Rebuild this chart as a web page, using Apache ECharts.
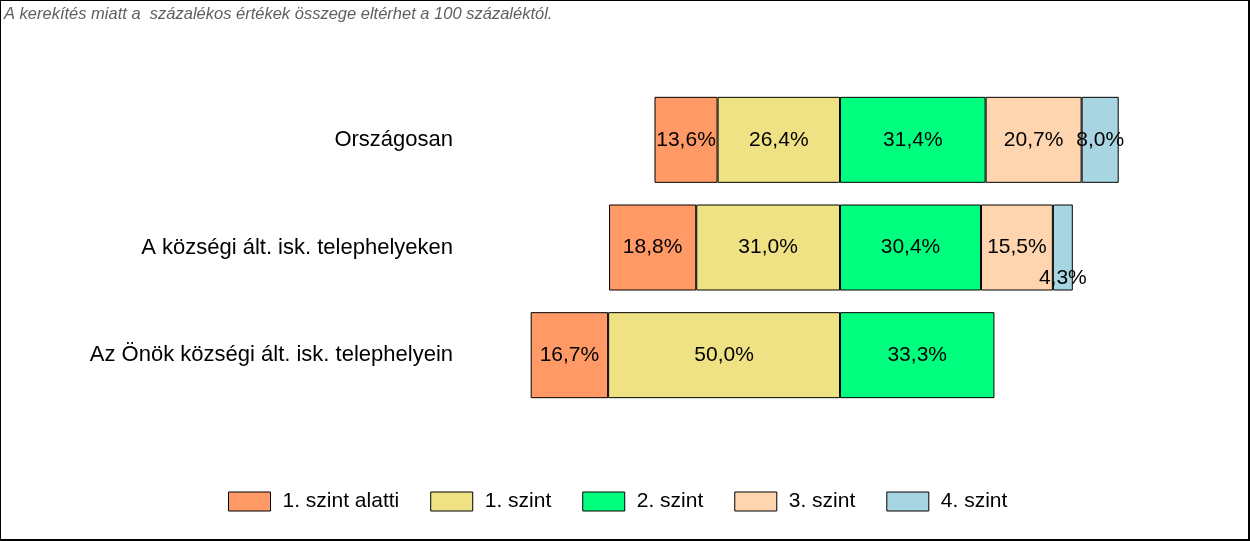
<!DOCTYPE html>
<html>
<head>
<meta charset="utf-8">
<script src="https://cdn.jsdelivr.net/npm/echarts@6/dist/echarts.min.js"></script>
<style>
html,body{margin:0;padding:0;background:#fff;}
#c{position:absolute;left:0;top:0;width:1247px;height:538px;border-left:1px solid #000;border-top:1px solid #000;border-right:2px solid #000;border-bottom:2px solid #000;}
</style>
</head>
<body>
<div id="c"></div>
<script>
const categories = ["Országosan", "A községi ált. isk. telephelyeken", "Az Önök községi ált. isk. telephelyein"];
const seriesNames = ["1. szint alatti", "1. szint", "2. szint", "3. szint", "4. szint"];
const belowLevel1 = [13.6, 18.8, 16.7];
const level1 = [26.4, 31.0, 50.0];
const level2 = [31.4, 30.4, 33.3];
const level3 = [20.7, 15.5, null];
const level4 = [8.0, 4.3, null];
const colors = ["#FF9966", "#EEE285", "#00FF7F", "#FFD5B0", "#A8D5E2"];
const note = "A kerekítés miatt a  százalékos értékek összege eltérhet a 100 százaléktól.";

const FF = 'Liberation Sans, Arial';
const fmt = p => p.value == null ? '' : Math.abs(p.value).toFixed(1).replace('.', ',') + '%';
const lbl = {show: true, position: 'inside', color: '#000', fontSize: 21, fontFamily: FF, formatter: fmt};
const item = c => ({color: c, borderColor: '#000', borderWidth: 1});
function mk(name, data, color) {
  return {name, type: 'bar', stack: 'all', barWidth: 86, data, label: lbl, itemStyle: item(color), emphasis: {disabled: true}};
}
const s4data = level4.map((v, i) => i === 1 ? {value: v, label: {position: 'insideBottom', distance: 2}} : v);

const chart = echarts.init(document.getElementById('c'), null, {renderer: 'canvas'});
chart.setOption({
  animation: false,
  title: {text: note, left: 0, top: 2, padding: [3, 3], textStyle: {fontSize: 16.5, fontStyle: 'italic', fontWeight: 'normal', color: '#5f5f5f', fontFamily: FF}},
  legend: {
    data: seriesNames, left: 222, top: 485, itemWidth: 42, itemHeight: 19, itemGap: 31,
    icon: 'rect',
    textStyle: {fontSize: 21, color: '#000', fontFamily: FF, padding: [0, 0, 0, 7]},
    itemStyle: {borderColor: '#000', borderWidth: 1}
  },
  grid: {left: 468, right: 37, top: 85, bottom: 130, containLabel: false},
  xAxis: {type: 'value', min: -80, max: 80, show: false},
  yAxis: {type: 'category', data: categories, inverse: true,
    axisLine: {show: false}, axisTick: {show: false},
    axisLabel: {fontSize: 22, color: '#000', margin: 16, fontFamily: FF}},
  series: [
    mk(seriesNames[1], level1.map(v => -v), colors[1]),
    mk(seriesNames[0], belowLevel1.map(v => -v), colors[0]),
    mk(seriesNames[2], level2, colors[2]),
    mk(seriesNames[3], level3, colors[3]),
    mk(seriesNames[4], s4data, colors[4])
  ]
});
</script>
</body>
</html>
